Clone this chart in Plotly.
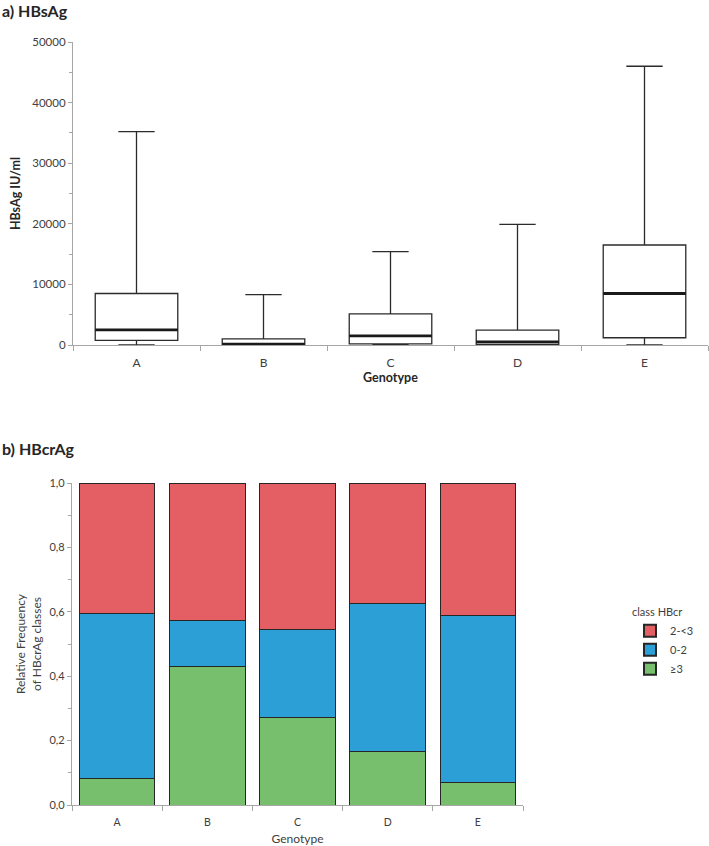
import plotly.graph_objects as go

genotypes = ["A", "B", "C", "D", "E"]

# Panel a) HBsAg box statistics (IU/ml)
hbs_lower = [0, 0, 0, 0, 0]
hbs_q1 = [750, 50, 200, 100, 1200]
hbs_median = [2500, 150, 1500, 500, 8500]
hbs_q3 = [8500, 1000, 5150, 2450, 16500]
hbs_upper = [35200, 8300, 15400, 19900, 46000]

# Panel b) HBcrAg relative frequencies
ge3 = [0.083, 0.429, 0.273, 0.167, 0.069]
zero_two = [0.513, 0.143, 0.272, 0.458, 0.521]
two_lt3 = [0.404, 0.428, 0.455, 0.375, 0.410]
class_names = ["\u22653", "0-2", "2-<3"]
class_colors = ["#77BE6D", "#2D9FD7", "#E35F63"]

W, H = 709, 846
FONT = "Lato, 'Open Sans', sans-serif"
AXIS_GREY = "#A6A6A6"
TXT = "#404040"

def px_x(a, b):
    return [a / W, b / W]

def px_y(top, bottom):
    return [(H - bottom) / H, (H - top) / H]

fig = go.Figure()

# ---------- top: box plot ----------
fig.add_trace(go.Box(
    x=genotypes, q1=hbs_q1, median=hbs_median, q3=hbs_q3,
    lowerfence=hbs_lower, upperfence=hbs_upper,
    fillcolor="white", line=dict(color="#2b2b2b", width=1.3),
    whiskerwidth=0.44, boxpoints=False, showlegend=False,
    xaxis="x", yaxis="y", hoverinfo="skip",
))

box_half = 0.325
for i, m in enumerate(hbs_median):
    fig.add_shape(type="line", xref="x", yref="y",
                  x0=i - box_half, x1=i + box_half, y0=m, y1=m,
                  line=dict(color="#1a1a1a", width=2.8))

# ---------- bottom: stacked bars ----------
for name, vals, col in zip(class_names, [ge3, zero_two, two_lt3], class_colors):
    fig.add_trace(go.Bar(
        x=genotypes, y=vals, name=name,
        marker=dict(color=col, line=dict(color="#262626", width=1.0)),
        xaxis="x2", yaxis="y2",
    ))

fig.update_layout(
    width=W, height=H, autosize=False,
    margin=dict(l=0, r=0, t=0, b=0, pad=0),
    paper_bgcolor="white", plot_bgcolor="white",
    font=dict(family=FONT, size=11, color=TXT),
    boxgap=0.35, boxgroupgap=0, barmode="stack", bargap=0.16,
    xaxis=dict(
        domain=px_x(73, 708), anchor="y", type="category", automargin=False,
        showline=True, linecolor=AXIS_GREY, linewidth=1.2,
        ticks="outside", tickson="boundaries", ticklen=5, tickcolor=AXIS_GREY,
        ticklabelstandoff=6,
        showgrid=False, zeroline=False,
        tickfont=dict(size=12, color=TXT),
        title=dict(text="<b>Genotype</b>", font=dict(size=12.5, color="#262626"), standoff=4),
    ),
    yaxis=dict(
        domain=px_y(42, 345), anchor="x", range=[0, 50000], automargin=False,
        tickvals=[0, 10000, 20000, 30000, 40000, 50000], tickformat="d",
        showline=True, linecolor=AXIS_GREY, linewidth=1.2,
        ticks="outside", ticklen=4, tickcolor=AXIS_GREY,
        minor=dict(dtick=5000, ticks="outside", ticklen=3, tickcolor=AXIS_GREY),
        showgrid=False, zeroline=False,
        tickfont=dict(size=11.5, color=TXT),
        title=dict(text="<b>HBsAg IU/ml</b>", font=dict(size=12.5, color="#262626"), standoff=8),
    ),
    xaxis2=dict(
        domain=px_x(72, 523), anchor="y2", type="category", automargin=False,
        showline=True, linecolor=AXIS_GREY, linewidth=1.2,
        ticks="outside", tickson="boundaries", ticklen=5, tickcolor=AXIS_GREY,
        ticklabelstandoff=7,
        showgrid=False, zeroline=False,
        tickfont=dict(size=10.5, color=TXT),
        title=dict(text="Genotype", font=dict(size=12, color=TXT), standoff=8),
    ),
    yaxis2=dict(
        domain=px_y(483, 805), anchor="x2", range=[0, 1], automargin=False,
        tickvals=[0, 0.2, 0.4, 0.6, 0.8, 1.0],
        ticktext=["0,0", "0,2", "0,4", "0,6", "0,8", "1,0"],
        showline=True, linecolor=AXIS_GREY, linewidth=1.2,
        ticks="outside", ticklen=4, tickcolor=AXIS_GREY,
        minor=dict(dtick=0.1, ticks="outside", ticklen=3, tickcolor=AXIS_GREY),
        showgrid=False, zeroline=False,
        tickfont=dict(size=11, color=TXT),
        title=dict(text="Relative Frequency<br>of HBcrAg classes", font=dict(size=12, color=TXT), standoff=5),
    ),
    legend=dict(
        title=dict(text="class HBcr", font=dict(size=11, color=TXT)),
        x=630 / W, y=(H - 602) / H, xanchor="left", yanchor="top",
        font=dict(size=11, color=TXT), bgcolor="rgba(0,0,0,0)",
        traceorder="reversed", tracegroupgap=0, itemsizing="constant",
    ),
    annotations=[
        dict(text="<b>a) HBsAg</b>", x=0, y=(H - 10) / H, xref="paper", yref="paper",
             xanchor="left", yanchor="middle", showarrow=False,
             font=dict(size=16, color="#262626")),
        dict(text="<b>b) HBcrAg</b>", x=0, y=(H - 448) / H, xref="paper", yref="paper",
             xanchor="left", yanchor="middle", showarrow=False,
             font=dict(size=16, color="#262626")),
    ],
)

fig.write_html(
    "out.html",
    config={"displayModeBar": False},
    post_script="document.body.style.margin='0';document.body.style.overflow='hidden';",
)
